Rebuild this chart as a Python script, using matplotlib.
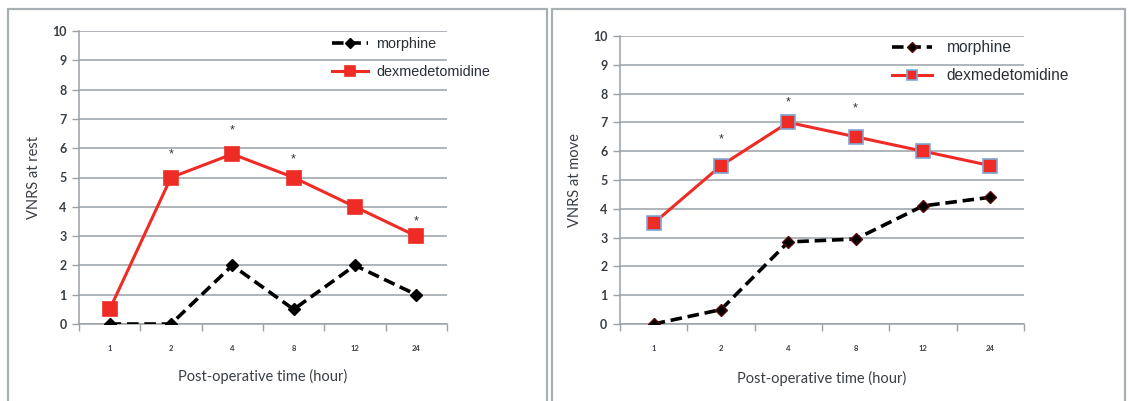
import numpy as np
import matplotlib.pyplot as plt
from matplotlib.patches import Rectangle

# data
hours = ["1", "2", "4", "8", "12", "24"]
yticks = list(range(0, 11))

rest_morphine = [0, 0, 2, 0.5, 2, 1]
rest_dex = [0.5, 5, 5.8, 5, 4, 3]
rest_stars = [None, 5.8, 6.6, 5.6, None, 3.5]

move_morphine = [0, 0.5, 2.85, 2.95, 4.1, 4.4]
move_dex = [3.5, 5.5, 7, 6.5, 6, 5.5]
move_stars = [None, 6.4, 7.7, 7.5, None, None]

W, H = 1129, 401
fig = plt.figure(figsize=(W / 100, H / 100), dpi=100)
fig.patch.set_facecolor("white")

# grey boxes around each panel
for x0, x1 in [(8, 547), (552, 1125)]:
    fig.patches.append(Rectangle((x0 / W, -0.05), (x1 - x0) / W, 1.05 - 8.5 / H,
                                 transform=fig.transFigure, fill=False,
                                 edgecolor="#a9b0b3", linewidth=1.6))

red = "#ee2b24"
tick_col = "#3a3f45"
grid_col = "#9aa1a6"


def panel(rect, morph, dex, stars, ylab, dex_edge, morph_edge, leg, lpad):
    ax = fig.add_axes(rect)
    x = np.arange(len(hours))
    ax.plot(x, morph, color="black", linestyle=(0, (3.2, 1.6)), linewidth=2.6,
            marker="D", markersize=6.5, markerfacecolor="black",
            markeredgecolor=morph_edge, label="morphine", zorder=3)
    ax.plot(x, dex, color=red, linewidth=2.2, marker="s", markersize=10,
            markerfacecolor=red, markeredgecolor=dex_edge, markeredgewidth=1.2,
            label="dexmedetomidine", zorder=4)
    for xi, s in zip(x, stars):
        if s is not None:
            ax.text(xi, s, "*", ha="center", va="center", fontsize=9,
                    color="#333333", family="Liberation Sans")

    ax.set_xlim(-0.5, len(hours) - 0.5)
    ax.set_ylim(0, 10)
    ax.set_yticks(yticks)
    ax.set_yticklabels([str(v) for v in yticks], fontsize=9, fontweight="bold",
                       color=tick_col, family="Lato")
    ax.set_xticks(x)
    ax.set_xticklabels(hours, fontsize=5.5, fontweight="bold", color=tick_col,
                       family="Lato")
    ax.set_xticks(np.arange(-0.5, len(hours)), minor=True)
    ax.tick_params(axis="x", which="major", length=0, pad=15)
    ax.tick_params(axis="x", which="minor", length=5, color=grid_col, width=1)
    ax.tick_params(axis="y", length=5, color=grid_col, width=1, pad=4)

    ax.grid(axis="y", color=grid_col, linewidth=1.1)
    ax.set_axisbelow(True)
    for side in ["top", "right"]:
        ax.spines[side].set_visible(False)
    for side in ["left", "bottom"]:
        ax.spines[side].set_color(grid_col)
        ax.spines[side].set_linewidth(1.1)

    ax.set_xlabel("Post-operative time (hour)", fontsize=10.5, color="#3a3f45",
                  family="Lato", labelpad=lpad)
    ax.set_ylabel(ylab, fontsize=10.5, color="#3a3f45", family="Lato",
                  labelpad=8)

    lx, ly, fs, hl, htp, ls = leg
    ax.legend(loc="upper left", bbox_to_anchor=(lx / W, 1 - ly / H),
              bbox_transform=fig.transFigure, frameon=False, borderpad=0,
              borderaxespad=0, handlelength=hl, markerscale=0.75,
              handletextpad=htp, labelspacing=ls,
              prop={"family": "Liberation Sans", "size": fs})
    for t in ax.get_legend().get_texts():
        t.set_color("#2b3038")
    return ax


panel([79 / W, 1 - 324 / H, (447 - 79) / W, (324 - 31) / H],
      rest_morphine, rest_dex, rest_stars, "VNRS at rest", red, "black",
      (332, 37, 10.4, 2.5, 0.55, 1.0), 12)
panel([620 / W, 1 - 324 / H, (1024 - 620) / W, (324 - 36) / H],
      move_morphine, move_dex, move_stars, "VNRS at move", "#7fa6d6", "#5a0a0a",
      (892, 40, 11.2, 2.55, 0.95, 0.85), 13.5)

fig.savefig("out.png", dpi=100)
